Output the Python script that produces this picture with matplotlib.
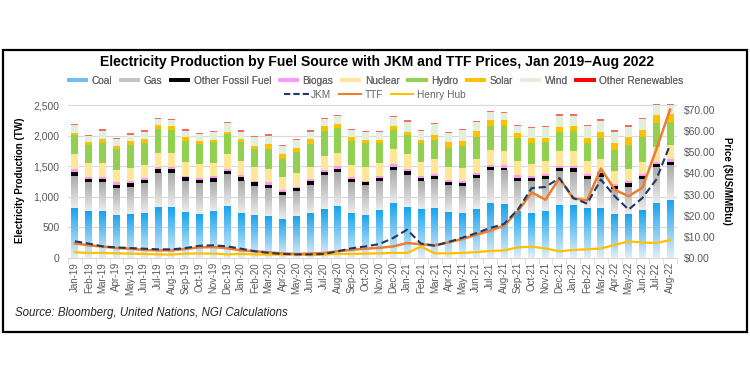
import numpy as np
import matplotlib
matplotlib.use('Agg')
import matplotlib.pyplot as plt
from matplotlib.colors import LinearSegmentedColormap
from matplotlib.lines import Line2D
from matplotlib.patches import Rectangle
from matplotlib.ticker import FuncFormatter, MultipleLocator

plt.rcParams['font.family'] = ['Liberation Sans', 'DejaVu Sans']

months = ['Jan-19', 'Feb-19', 'Mar-19', 'Apr-19', 'May-19', 'Jun-19', 'Jul-19', 'Aug-19',
          'Sep-19', 'Oct-19', 'Nov-19', 'Dec-19', 'Jan-20', 'Feb-20', 'Mar-20', 'Apr-20',
          'May-20', 'Jun-20', 'Jul-20', 'Aug-20', 'Sep-20', 'Oct-20', 'Nov-20', 'Dec-20',
          'Jan-21', 'Feb-21', 'Mar-21', 'Apr-21', 'May-21', 'Jun-21', 'Jul-21', 'Aug-21',
          'Sep-21', 'Oct-21', 'Nov-21', 'Dec-21', 'Jan-22', 'Feb-22', 'Mar-22', 'Apr-22',
          'May-22', 'Jun-22', 'Jul-22', 'Aug-22']

# production, TW
coal = [815, 761, 761, 707, 717, 739, 826, 826, 750, 717, 772, 853,
        728, 696, 685, 630, 685, 728, 799, 848, 739, 707, 788, 902,
        832, 804, 815, 750, 739, 804, 891, 880, 761, 734, 772, 870,
        859, 815, 815, 717, 717, 783, 902, 951]
gas = [533, 484, 478, 440, 451, 484, 560, 565, 511, 506, 478, 522,
       533, 478, 462, 397, 402, 473, 554, 554, 500, 478, 467, 538,
       521, 457, 479, 440, 440, 506, 549, 555, 505, 521, 522, 549,
       543, 473, 517, 408, 451, 505, 593, 571]
other_fossil = [65, 43, 60, 54, 55, 54, 65, 60, 60, 54, 54, 54,
                60, 60, 49, 55, 54, 54, 55, 60, 49, 49, 49, 49,
                66, 49, 48, 49, 44, 49, 49, 43, 49, 49, 48, 54,
                71, 54, 54, 54, 55, 49, 38, 49]
biogas = [38, 43, 27, 33, 32, 33, 33, 33, 27, 33, 33, 33,
          32, 27, 38, 32, 27, 28, 38, 38, 33, 32, 33, 44,
          38, 38, 38, 38, 38, 38, 33, 38, 38, 33, 33, 38,
          38, 33, 33, 38, 32, 38, 38, 43]
nuclear = [245, 218, 234, 206, 218, 217, 228, 228, 223, 223, 223, 239,
           239, 223, 228, 207, 218, 201, 228, 212, 206, 223, 223, 244,
           239, 217, 234, 212, 217, 217, 244, 240, 229, 207, 207, 234,
           245, 207, 195, 212, 207, 196, 239, 234]
hydro = [315, 299, 326, 337, 375, 359, 397, 386, 342, 326, 331, 321,
         299, 304, 326, 304, 342, 380, 402, 408, 392, 386, 315, 321,
         315, 310, 321, 315, 359, 370, 397, 396, 375, 331, 309, 320,
         320, 304, 343, 343, 386, 402, 397, 380]
solar = [33, 43, 54, 60, 71, 65, 65, 65, 65, 60, 44, 43,
         49, 49, 76, 76, 71, 82, 87, 76, 65, 60, 54, 60,
         54, 60, 76, 87, 76, 98, 92, 98, 81, 87, 76, 76,
         76, 81, 103, 108, 130, 120, 130, 120]
wind = [130, 104, 142, 109, 97, 114, 98, 92, 104, 108, 125, 136,
        125, 136, 136, 131, 130, 119, 109, 119, 109, 125, 131, 152,
        163, 141, 174, 147, 174, 141, 136, 114, 125, 163, 169, 185,
        174, 191, 185, 185, 169, 179, 158, 147]
other_ren = [22, 21, 21, 21, 22, 22, 22, 22, 21, 22, 16, 22,
             22, 22, 22, 21, 22, 22, 22, 27, 21, 22, 22, 16,
             22, 22, 22, 22, 22, 22, 17, 17, 16, 16, 22, 22,
             22, 21, 21, 22, 22, 22, 16, 16]

# prices, $US/MMBtu
jkm = [7.9, 6.8, 5.5, 5.0, 4.7, 4.4, 4.1, 4.1, 4.7, 5.8, 6.0, 5.5,
       4.4, 3.2, 2.4, 1.9, 1.7, 1.7, 1.9, 3.2, 4.6, 5.5, 6.6, 9.5,
       13.4, 6.8, 5.8, 7.6, 9.6, 11.8, 14.2, 16.1, 22.9, 33.1, 33.6, 37.8,
       28.4, 25.7, 37.1, 29.2, 22.9, 28.4, 37.1, 53.6]
ttf = [6.9, 6.0, 5.4, 4.7, 4.4, 3.8, 3.6, 3.6, 4.3, 5.0, 5.2, 4.6,
       3.6, 3.2, 2.7, 2.2, 1.9, 2.1, 2.4, 3.2, 3.9, 4.4, 4.8, 5.5,
       7.1, 6.5, 6.0, 7.4, 9.0, 11.0, 12.9, 15.3, 22.1, 31.0, 27.6, 37.8,
       28.2, 27.3, 42.3, 32.3, 29.2, 33.3, 51.3, 70.2]
henry_hub = [2.7, 2.4, 2.4, 2.2, 2.1, 1.9, 1.7, 1.6, 2.1, 2.1, 2.1, 1.7,
             1.9, 1.7, 1.6, 1.6, 1.6, 1.4, 1.6, 1.9, 1.9, 2.1, 2.2, 2.4,
             2.4, 5.4, 2.2, 2.2, 2.4, 2.8, 3.3, 3.6, 5.0, 5.4, 4.5, 3.2,
             3.8, 4.1, 4.5, 6.2, 7.9, 7.3, 7.1, 8.5]

names = ['Coal', 'Gas', 'Other Fossil Fuel', 'Biogas', 'Nuclear', 'Hydro',
         'Solar', 'Wind', 'Other Renewables']
series = [coal, gas, other_fossil, biogas, nuclear, hydro, solar, wind, other_ren]
colors = ['#2aa8ec', '#c4c4c4', '#000000', '#ff99ff', '#ffe699', '#92d050',
          '#ffc000', '#e2efda', '#ff0000']
bar_colors = list(colors)
bar_colors[8] = '#f26a6a'

coal_cmap = LinearSegmentedColormap.from_list('coal', ['#e2eef9', '#17a4ee'])
gas_cmap = LinearSegmentedColormap.from_list('gas', ['#ececec', '#a9a9a9'])

fig = plt.figure(figsize=(7.5, 3.75), dpi=100)
ax = fig.add_axes([0.0907, 0.312, 0.812, 0.4128])
x = np.arange(len(months))
w = 0.5
ymax = 2530

bottom = np.zeros(len(months))
for i, (name, vals) in enumerate(zip(names, series)):
    vals = np.array(vals, dtype=float)
    if i < 2:
        # coal and gas are drawn with a vertical colour fade
        cmap = coal_cmap if i == 0 else gas_cmap
        grad = np.linspace(0, 1, 64).reshape(-1, 1)
        for xi, b, v in zip(x, bottom, vals):
            ax.imshow(grad, extent=[xi - w / 2, xi + w / 2, b, b + v], origin='lower',
                      aspect='auto', cmap=cmap, zorder=2, interpolation='bilinear')
    else:
        ax.bar(x, vals, w, bottom=bottom, color=bar_colors[i], zorder=2, linewidth=0)
    bottom += vals

ax.set_xlim(-0.5, len(months) - 0.5)
ax.set_ylim(0, ymax)
ax.set_yticks(np.arange(0, 2501, 500))
ax.yaxis.set_major_formatter(FuncFormatter(lambda v, p: f'{int(v):,}'))
ax.grid(axis='y', color='#d9d9d9', linewidth=0.8, zorder=0)
ax.set_axisbelow(True)
for s in ['top', 'right', 'left']:
    ax.spines[s].set_visible(False)
ax.spines['bottom'].set_color('#d9d9d9')
ax.set_xticks(x)
ax.set_xticklabels(months, rotation=90, fontsize=7, color='#595959')
ax.xaxis.set_minor_locator(MultipleLocator(1, offset=0.5))
ax.tick_params(axis='x', which='major', length=0, pad=3)
ax.tick_params(axis='x', which='minor', length=4, color='#d9d9d9')
ax.tick_params(axis='y', length=0, labelsize=7.5, labelcolor='#595959', pad=6)
ax.set_ylabel('Electricity Production (TW)', fontsize=7, fontweight='bold', labelpad=6)

ax2 = ax.twinx()
ax2.plot(x, henry_hub, color='#ffc000', lw=1.6, zorder=3)
ax2.plot(x, ttf, color='#ed7d31', lw=1.8, zorder=4)
ax2.plot(x, jkm, color='#203864', lw=1.5, ls=(0, (3.5, 1.8)), zorder=5)
ax2.set_ylim(0, 70 * 153 / 148 * ymax / 2500)
ax2.set_yticks(np.arange(0, 71, 10))
ax2.yaxis.set_major_formatter(FuncFormatter(lambda v, p: f'${v:.2f}'))
ax2.tick_params(axis='y', length=0, labelsize=7.5, labelcolor='#595959', pad=5)
for s in ax2.spines.values():
    s.set_visible(False)
ax2.set_ylabel('Price ($US/MMBtu)', fontsize=7, fontweight='bold', rotation=270, labelpad=12)

fig.text(0.503, 0.835, 'Electricity Production by Fuel Source with JKM and TTF Prices, Jan 2019\u2013Aug 2022',
         ha='center', va='center', fontsize=10.1, fontweight='bold')

h1 = [Line2D([], [], color=c, lw=2.6, solid_capstyle='butt') for c in colors]
h1[0] = Line2D([], [], color='#6cc0f0', lw=2.6, solid_capstyle='butt')
leg1 = fig.legend(h1, names, loc='center', bbox_to_anchor=(0.5, 0.785), ncol=9, frameon=False,
                  fontsize=7.3, handlelength=2.1, handletextpad=0.35, columnspacing=0.65,
                  labelcolor='#666666')
h2 = [Line2D([], [], color='#203864', lw=1.5, ls=(0, (3, 1.5))),
      Line2D([], [], color='#ed7d31', lw=1.5, solid_capstyle='butt'),
      Line2D([], [], color='#ffc000', lw=1.5, solid_capstyle='butt')]
leg2 = fig.legend(h2, ['JKM', 'TTF', 'Henry Hub'], loc='center', bbox_to_anchor=(0.5, 0.747), ncol=3,
                  frameon=False, fontsize=7.3, handlelength=2.4, handletextpad=0.25,
                  columnspacing=0.65, labelcolor='#666666')
fig.add_artist(leg1)

fig.text(0.02, 0.165, 'Source: Bloomberg, United Nations, NGI Calculations', fontsize=8.3,
         style='italic', color='#262626', va='center')

fig.add_artist(Rectangle((0.004, 0.115), 0.992, 0.752, transform=fig.transFigure,
                         fill=False, edgecolor='black', linewidth=1.6))

fig.savefig('out.png', dpi=100)
